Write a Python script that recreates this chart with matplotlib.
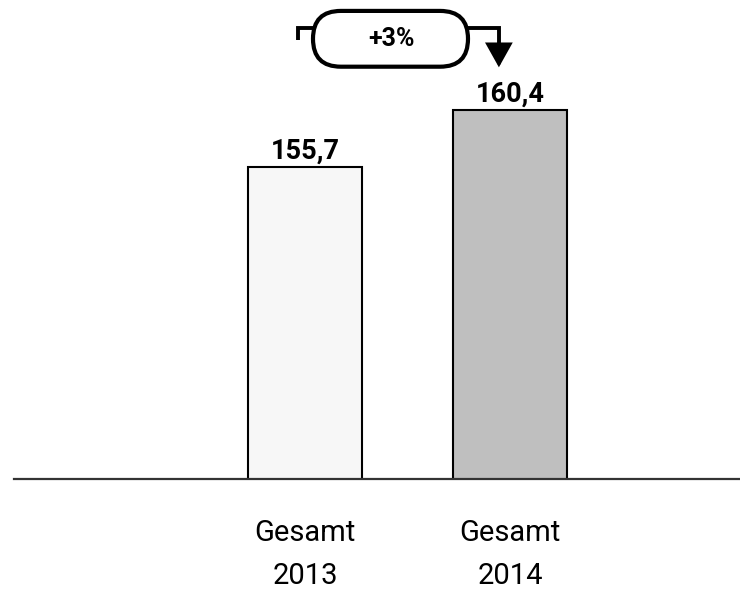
import matplotlib
matplotlib.use("Agg")
import matplotlib.pyplot as plt
from matplotlib.patches import FancyBboxPatch, ArrowStyle
from matplotlib.transforms import IdentityTransform

# data
categories = ["Gesamt\n2013", "Gesamt\n2014"]
values = [155.7, 160.4]
value_labels = ["155,7", "160,4"]
change_label = "+3%"
bar_colors = ["#f7f7f7", "#bfbfbf"]

plt.rcParams["font.family"] = ["Roboto", "DejaVu Sans"]

fig = plt.figure(figsize=(7.4, 5.95), dpi=100)
ax = fig.add_axes([14 / 740, 116 / 595, 726 / 740, 479 / 595])

x = list(range(len(categories)))
bars = ax.bar(x, values, width=0.557, color=bar_colors, edgecolor="black",
              linewidth=1.5, bottom=0)
ax.set_ylim(130, 169.5)
ax.set_xlim(-1.425, 2.125)

for xi, v, lab in zip(x, values, value_labels):
    ax.annotate(lab, (xi, v), xytext=(0, 6.5), textcoords="offset points",
                ha="center", va="baseline", fontsize=19.5, fontweight="bold")

ax.set_xticks(x)
ax.set_xticklabels(categories, fontsize=21, linespacing=1.65)
ax.tick_params(axis="x", length=0, pad=29)
ax.set_yticks([])
for s in ["left", "right", "top"]:
    ax.spines[s].set_visible(False)
ax.spines["bottom"].set_color("#333333")
ax.spines["bottom"].set_linewidth(1.6)

# change annotation: pill with hook on the left and arrow down to 2014 bar
y_line = values[1] + 6.8
pill_x0, pill_x1 = x[0] + 0.037, x[0] + 0.795
pill_y0, pill_y1 = values[1] + 3.6, values[1] + 8.2
hook_x = x[0] - 0.037
arrow_x = x[1] - 0.054

ax.plot([hook_x, hook_x, pill_x0 + 0.05], [y_line - 1.0, y_line, y_line],
        color="black", lw=2.8, solid_capstyle="butt", solid_joinstyle="miter",
        clip_on=False, zorder=3)
ax.annotate("", xy=(arrow_x, values[1] + 3.55), xytext=(pill_x1 - 0.05, y_line),
            arrowprops=dict(arrowstyle=ArrowStyle("-|>", head_length=0.68, head_width=0.38),
                            mutation_scale=20,
                            connectionstyle="angle,angleA=0,angleB=90,rad=0",
                            lw=2.8, color="black", shrinkA=0, shrinkB=0,
                            joinstyle="miter"),
            zorder=3)

fig.canvas.draw()
(px0, py0) = ax.transData.transform((pill_x0, pill_y0))
(px1, py1) = ax.transData.transform((pill_x1, pill_y1))
h = py1 - py0
pill = FancyBboxPatch((px0, py0), px1 - px0, h,
                      boxstyle=f"round,pad=0,rounding_size={h / 2}",
                      transform=IdentityTransform(), facecolor="white",
                      edgecolor="black", linewidth=3.0, zorder=4, clip_on=False)
ax.add_artist(pill)
ax.text((pill_x0 + pill_x1) / 2 + 0.005, (pill_y0 + pill_y1) / 2, change_label,
        ha="center", va="center", fontsize=18, fontweight="bold", zorder=5)

fig.savefig("out.png", dpi=100, facecolor="white")
